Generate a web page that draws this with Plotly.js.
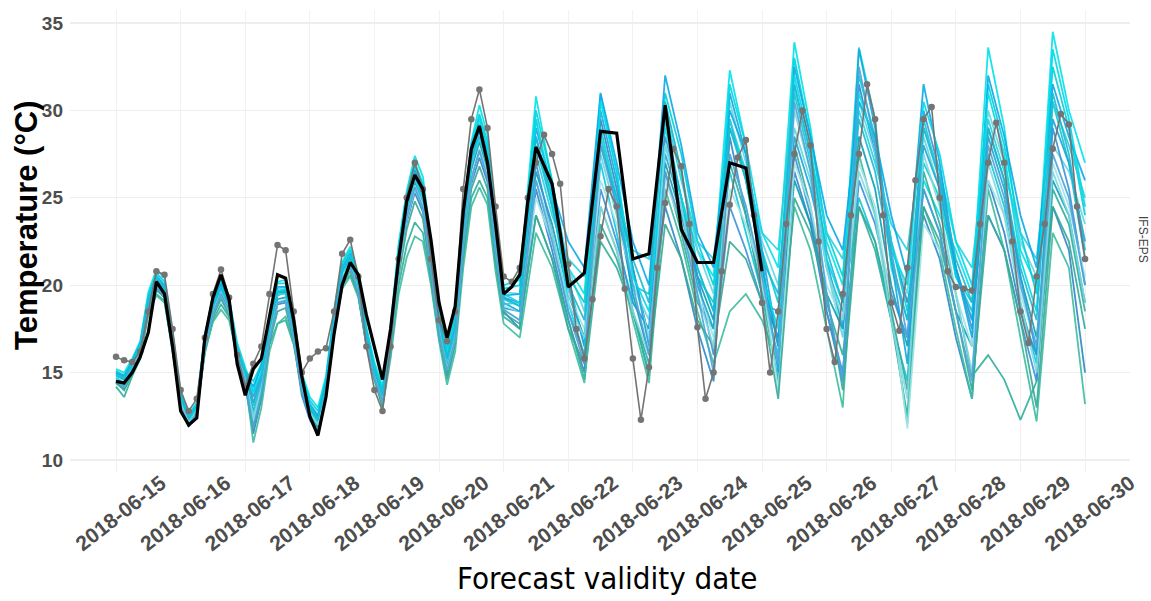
<!DOCTYPE html>
<html><head><meta charset="utf-8">
<script src="https://cdn.plot.ly/plotly-3.0.1.min.js"></script>
<style>html,body{margin:0;padding:0;background:#fff}#chart{width:1151px;height:601px}</style>
</head><body><div id="chart"></div>
<script>
// ---- tick labels ----
const dayTicks = ['2018-06-15','2018-06-16','2018-06-17','2018-06-18','2018-06-19','2018-06-20','2018-06-21','2018-06-22',
  '2018-06-23','2018-06-24','2018-06-25','2018-06-26','2018-06-27','2018-06-28','2018-06-29','2018-06-30'];
const tempTicks = [10,15,20,25,30,35];

// ---- observations (black): 3-hourly 0..168 h, then 6-hourly 174..240 h after 2018-06-15 00 UTC ----
const obs3h = [
  14.5,14.4,15.0,15.9,17.3,20.2,19.5,16.5,
  12.8,12.0,12.4,17.0,19.3,20.6,19.2,15.5,
  13.7,15.2,15.8,18.3,20.6,20.4,18.0,14.8,
  12.5,11.4,13.6,17.2,20.0,21.3,20.6,18.3,
  16.5,14.6,17.5,21.5,24.8,26.3,25.5,22.6,
  19.0,17.0,18.8,24.2,27.8,29.1,27.0,23.5,
  19.5,19.9,20.6,24.8,27.9,26.8,25.8,23.0,
  19.9];
const obs6h = [20.7,28.8,28.7,21.5,21.8,30.3,23.2,21.3,21.3,27.0,26.7,20.8];

// ---- grey dotted series: 3-hourly 0..360 h ----
const greyVals = [
  15.9,15.7,15.6,16.2,18.5,20.8,20.6,17.5,
  14.0,12.8,13.5,17.0,19.5,20.9,19.3,16.0,
  14.2,15.5,16.5,19.5,22.3,22.0,18.5,15.0,
  15.8,16.2,16.4,18.5,21.8,22.6,20.5,16.5,
  14.0,12.8,16.5,21.5,25.0,27.0,25.5,21.5,
  18.0,16.8,18.5,25.5,29.5,31.2,29.0,24.5,
  20.5,20.2,21.0,25.0,27.0,28.6,27.5,25.8,
  21.2,17.5,15.8,19.2,22.8,25.5,24.5,19.8,
  15.8,12.3,15.3,21.0,24.7,27.8,26.8,23.5,
  17.6,13.5,15.0,20.8,24.6,27.3,28.3,24.0,
  19.0,15.0,18.5,23.5,27.5,30.0,28.0,22.5,
  17.5,15.6,19.5,24.0,27.5,31.5,29.5,24.0,
  19.0,17.4,21.0,26.0,29.5,30.2,25.0,20.8,
  19.9,19.8,19.7,23.5,27.0,29.3,27.0,22.5,
  18.5,16.7,20.5,23.5,27.8,29.8,29.2,24.5,
  21.5];

// ---- ensemble members: early = 3-hourly 0..144 h (49), late = 6-hourly 150..360 h (36) ----
const m01Early = [15.2,15.0,15.8,16.8,19.6,20.9,20.4,17.3, 13.9,12.6,13.3,17.2,19.3,20.4,19.3,16.7, 15.3,14.0,15.5,18.2,20.2,20.3,18.0,15.0, 13.6,13.0,14.8,18.6,21.3,22.2,20.6,17.6, 15.6,14.2,17.6,22.4,25.4,27.4,26.2,22.6, 18.6,16.6,18.4,24.2,28.2,30.3,28.6,23.6, 20.0];
const m01Late = [20.3,30.8,26.0, 21.0,19.5,30.9,26.5, 19.0,17.5,29.0,25.0, 22.0,20.5,32.3,28.0, 23.0,21.0,33.9,29.0, 22.5,20.0,33.6,29.5, 21.0,18.0,26.0,24.0, 22.0,19.5,33.6,29.0, 22.0,20.0,34.5,30.0, 27.0];
const m02Early = [14.8,14.6,15.3,16.4,19.0,20.2,19.8,16.8, 13.4,12.2,12.9,16.7,18.7,19.9,18.9,16.3, 14.9,12.5,14.2,17.3,19.4,19.6,17.4,14.2, 12.8,12.0,14.0,17.8,20.7,21.6,20.1,17.1, 15.1,13.8,17.0,21.6,24.6,26.4,25.2,21.8, 18.0,15.9,17.6,23.2,27.2,28.8,27.2,22.7, 19.2];
const m02Late = [18.8,28.0,24.5, 20.5,16.5,27.0,23.0, 18.5,15.0,29.5,25.0, 20.5,19.0,26.5,23.0, 19.5,16.0,31.0,27.0, 21.0,18.5,25.0,22.5, 18.0,14.5,29.5,26.0, 20.5,18.5,27.5,24.5, 19.0,15.5,30.5,27.0, 21.5];
const m03Early = [14.4,14.1,15.0,16.0,18.6,19.8,19.3,16.3, 13.0,11.9,12.6,16.3,18.3,19.4,18.4,15.8, 14.3,11.5,13.5,16.8,18.9,19.0,16.8,13.7, 12.3,11.5,13.6,17.4,20.3,21.0,19.5,16.5, 14.6,13.2,16.3,20.8,23.6,25.3,24.2,20.8, 17.2,15.0,16.8,22.2,25.8,27.3,25.9,21.7, 18.5];
const m03Late = [17.5,25.5,22.0, 18.0,15.0,29.5,25.5, 21.0,17.0,24.5,21.5, 17.5,14.5,28.5,24.0, 19.5,17.0,26.5,23.5, 18.5,14.5,31.5,27.5, 22.5,19.0,24.0,21.5, 17.0,13.5,26.0,23.0, 18.5,16.0,24.5,22.0, 15.0];
const m04Early = [14.2,13.6,14.8,15.8,18.3,19.5,19.1,16.2, 13.2,12.0,12.8,16.1,18.0,18.9,18.2,15.9, 14.5,12.0,14.0,16.6,17.8,18.0,16.6,14.0, 12.6,11.8,13.9,17.2,20.0,20.6,19.4,16.7, 14.8,13.4,16.0,20.0,22.3,23.6,23.0,20.2, 17.0,14.6,16.6,21.5,25.0,26.0,25.0,21.0, 18.2];
const m04Late = [17.5,24.0,21.5, 18.0,14.6,22.5,21.0, 18.5,14.8,26.5,23.0, 19.0,17.5,27.0,24.0, 19.5,14.5,28.0,24.5, 19.0,16.0,24.5,22.0, 18.0,12.5,26.5,23.5, 19.5,14.8,16.0,14.6, 12.3,14.5,25.5,23.5, 18.5];
const m05Early = [15.0,14.9,15.6,16.6,19.3,20.6,20.0,17.0, 13.7,12.5,13.1,17.0,19.0,20.2,19.0,16.4, 15.1,13.8,15.0,17.8,19.8,19.9,17.6,14.6, 13.2,12.6,14.5,18.3,21.0,21.8,20.3,17.3, 15.3,13.9,17.2,22.0,25.0,26.8,25.6,22.0, 18.3,16.2,18.0,23.6,27.8,29.4,27.8,23.0, 19.6];
const m05Late = [19.5,29.5,25.5, 21.0,18.5,27.5,24.0, 20.0,18.0,30.5,26.5, 22.0,19.5,30.5,27.0, 22.5,20.0,29.0,26.0, 21.0,17.0,30.5,27.5, 22.5,19.5,28.5,25.5, 21.0,18.0,30.0,27.0, 22.5,20.5,28.0,26.5, 23.5];
const m06Early = [14.6,14.3,15.2,16.3,18.8,20.0,19.6,16.6, 13.3,12.1,12.8,16.5,18.5,19.6,18.6,16.0, 14.6,12.8,14.3,17.0,19.2,19.3,17.1,14.0, 12.6,11.9,13.9,17.6,20.5,21.3,19.8,16.8, 14.8,13.4,16.6,21.2,24.2,25.9,24.7,21.2, 17.5,15.4,17.2,22.8,26.6,28.2,26.6,22.2, 18.7];
const m06Late = [18.5,26.5,23.5, 19.5,17.0,28.5,24.5, 19.5,16.0,27.0,24.0, 20.5,18.0,29.5,26.0, 21.0,16.5,26.0,23.5, 19.5,17.5,28.5,25.5, 20.0,16.5,25.5,23.0, 18.5,16.5,29.0,26.0, 20.5,17.0,26.0,24.0, 19.0];
const m07Early = [14.9,14.7,15.5,16.5,19.1,20.4,19.9,16.9, 13.6,12.4,13.0,16.9,18.9,20.0,18.9,16.2, 14.9,13.3,14.7,17.6,19.6,19.7,17.5,14.4, 13.1,12.4,14.3,18.1,20.9,21.6,20.1,17.1, 15.1,13.7,17.0,21.7,24.8,26.5,25.3,21.7, 18.0,15.9,17.7,23.3,27.4,29.0,27.4,22.8, 19.3];
const m07Late = [19.0,27.0,23.0, 18.5,16.0,25.5,22.5, 19.0,17.5,28.5,25.0, 20.5,16.0,24.5,22.0, 19.0,18.5,27.5,24.0, 18.5,15.0,26.0,23.5, 19.5,17.0,30.0,26.5, 21.0,17.5,24.0,22.0, 18.0,14.5,29.0,25.5, 20.0];
const m08Early = [14.5,14.0,15.1,16.1,18.4,19.4,19.0,16.4, 13.4,12.3,12.9,16.2,17.9,18.6,18.0,15.9, 14.6,11.0,13.0,16.2,17.8,18.2,16.8,14.3, 13.0,12.0,14.0,17.3,19.8,20.5,19.3,16.6, 14.8,13.0,15.8,19.5,21.6,22.8,22.5,20.0, 16.8,14.3,16.2,21.0,24.5,25.6,24.6,20.8, 17.8];
const m08Late = [17.0,23.0,21.0, 17.5,14.4,24.5,22.0, 18.0,14.4,25.5,22.5, 18.5,15.5,18.5,19.5, 18.0,15.5,24.5,22.0, 17.5,13.0,27.5,24.0, 18.5,12.1,24.5,22.0, 17.5,13.5,25.5,22.0, 17.0,12.2,23.0,21.0, 13.2];
const m09Early = [15.1,14.8,15.7,16.7,19.4,20.7,20.2,17.1, 13.8,12.6,13.2,17.1,19.1,20.3,19.2,16.5, 15.1,14.5,15.5,18.0,20.1,20.1,17.8,14.8, 13.4,12.8,14.6,18.4,21.2,22.0,20.5,17.5, 15.4,14.0,17.4,22.2,25.2,27.0,25.8,22.2, 18.4,16.4,18.2,23.8,28.0,29.8,28.2,23.3, 19.8];
const m09Late = [20.0,30.0,26.0, 20.5,19.0,29.0,25.0, 20.0,19.5,31.0,27.5, 22.5,20.0,29.0,26.5, 22.0,19.0,33.0,28.5, 23.0,20.5,32.0,28.5, 22.5,18.5,27.0,25.0, 20.5,19.0,31.5,28.0, 23.0,19.5,32.5,29.0, 24.0];
const m10Early = [14.7,14.5,15.3,16.3,18.9,20.1,19.7,16.7, 13.5,12.3,12.9,16.6,18.6,19.7,18.7,16.1, 14.7,12.2,14.0,17.1,19.0,19.2,17.2,14.2, 12.9,12.1,14.1,17.7,20.5,21.3,19.9,16.9, 15.0,13.5,16.5,21.0,23.8,25.5,24.5,21.2, 17.6,15.2,17.0,22.5,26.2,27.6,26.3,22.0, 18.8];
const m10Late = [18.5,25.0,22.5, 19.5,17.5,26.0,23.5, 20.5,17.0,26.0,23.5, 20.0,17.0,25.5,23.5, 20.5,14.0,27.0,24.5, 20.0,18.0,27.0,24.5, 19.0,11.8,23.5,22.0, 19.5,16.5,26.0,24.0, 19.5,16.5,27.0,24.5, 20.5];
const m11Early = [14.9,14.6,15.4,16.4,19.0,20.3,19.8,16.8, 13.5,12.3,13.0,16.8,18.8,19.8,18.8,16.2, 14.8,13.6,14.9,17.6,19.6,19.6,17.4,14.3, 12.9,12.2,14.1,18.0,20.8,21.5,20.0,17.0, 15.0,13.6,16.9,21.5,24.5,26.2,25.0,21.5, 17.9,15.7,17.5,23.0,27.0,28.5,27.0,22.5, 19.0];
const m11Late = [18.5,28.5,25.0, 20.0,16.5,30.0,26.0, 21.0,16.5,27.5,24.5, 20.0,17.5,31.0,27.5, 22.0,16.5,28.5,25.5, 21.5,17.5,33.5,29.0, 21.5,15.5,28.0,25.5, 21.0,18.0,28.5,25.5, 20.5,16.0,29.5,27.0, 22.5];
const m12Early = [14.7,14.4,15.3,16.4,19.0,20.2,19.7,16.7, 13.4,12.2,12.9,16.7,18.7,19.8,18.8,16.2, 14.8,12.6,14.4,17.4,19.5,19.5,17.3,14.2, 12.8,12.1,14.1,17.9,20.7,21.4,19.9,16.9, 14.9,13.5,16.8,21.4,24.4,26.1,24.9,21.4, 17.8,15.6,17.4,22.9,26.9,28.4,26.9,22.4, 18.9];
const m12Late = [19.0,27.5,24.0, 21.5,20.5,28.5,25.0, 22.0,21.5,30.0,26.0, 22.5,21.5,29.5,26.5, 23.0,22.0,31.5,27.5, 23.0,21.5,30.0,27.0, 23.5,22.0,29.0,26.5, 22.5,21.0,29.5,26.5, 23.0,21.5,30.5,28.0, 25.0];
const m13Early = [14.4,14.0,14.9,15.9,18.5,19.7,19.3,16.4, 13.2,12.0,12.7,16.3,18.2,19.2,18.3,15.8, 14.4,11.8,13.6,16.7,18.5,18.7,16.8,14.0, 12.6,11.7,13.7,17.4,20.1,20.8,19.5,16.6, 14.6,13.0,16.2,20.5,23.2,24.8,23.8,20.6, 17.2,14.8,16.7,21.8,25.5,26.8,25.5,21.5, 18.4];
const m13Late = [17.8,24.0,21.5, 17.5,15.5,23.5,21.5, 18.5,15.5,23.5,21.5, 18.0,16.5,22.5,21.5, 19.0,13.5,25.0,23.0, 19.5,14.0,24.5,22.5, 18.5,14.0,24.5,22.5, 18.5,14.0,24.0,22.0, 18.0,13.0,24.5,22.5, 17.5];
const m14Early = [15.0,14.8,15.6,16.6,19.2,20.5,20.0,17.0, 13.6,12.4,13.1,16.9,18.9,20.1,19.0,16.3, 15.0,14.2,15.3,17.8,19.9,19.9,17.6,14.6, 13.2,12.5,14.4,18.2,21.0,21.8,20.2,17.2, 15.2,13.8,17.1,21.8,24.9,26.6,25.4,21.8, 18.1,16.0,17.8,23.4,27.5,29.2,27.6,23.0, 19.4];
const m14Late = [19.5,29.0,25.5, 22.5,21.0,31.0,27.0, 22.5,20.0,32.0,28.0, 23.0,21.0,30.0,27.5, 21.5,15.0,32.5,28.5, 24.0,22.0,30.5,28.5, 24.0,20.5,31.5,27.0, 21.0,17.0,32.0,28.5, 24.0,21.0,31.5,28.5, 26.0];
const m15Early = [14.9,14.7,15.5,16.6,19.2,20.4,19.9,16.9, 13.6,12.4,13.0,16.9,18.9,19.9,18.9,16.3, 14.9,13.9,15.0,17.7,19.7,19.8,17.6,14.5, 13.1,12.3,14.2,18.1,20.9,21.7,20.2,17.2, 15.2,13.8,17.1,21.9,25.0,26.9,25.7,22.1, 18.3,16.1,17.9,23.5,27.7,29.6,27.9,23.2, 19.5];
const m15Late = [19.0,29.5,25.0, 19.0,16.0,30.5,26.5, 20.5,18.5,28.0,25.0, 21.0,18.5,31.5,28.0, 20.5,17.5,32.0,28.0, 21.5,19.0,31.0,28.0, 22.0,20.0,30.5,27.5, 22.5,20.0,31.0,27.5, 21.5,18.5,33.5,29.5, 24.5];
const m16Early = [14.6,14.2,15.1,16.2,18.7,19.9,19.5,16.6, 13.3,12.1,12.8,16.4,18.4,19.5,18.5,16.0, 14.6,12.4,14.1,17.0,19.0,19.1,17.0,14.1, 12.7,12.0,14.0,17.6,20.4,21.1,19.7,16.8, 14.8,13.3,16.4,20.9,23.9,25.7,24.6,21.1, 17.4,15.1,16.9,22.4,26.0,27.8,26.4,22.0, 18.6];
const m16Late = [18.0,26.0,23.0, 19.0,17.0,24.5,22.0, 18.5,16.0,28.0,24.5, 19.5,16.5,27.5,24.5, 20.0,15.5,30.0,26.5, 21.0,18.0,26.5,24.0, 18.0,13.5,27.5,24.5, 19.5,15.0,27.0,24.0, 19.0,15.0,26.5,24.0, 19.0];
const m17Early = [15.0,14.7,15.5,16.5,19.1,20.3,19.9,16.9, 13.6,12.4,13.1,16.8,18.8,19.9,18.9,16.3, 15.0,13.1,14.6,17.5,19.6,19.7,17.5,14.4, 13.0,12.3,14.2,18.0,20.8,21.6,20.1,17.1, 15.1,13.7,17.0,21.7,24.7,26.4,25.2,21.7, 18.0,15.8,17.6,23.2,27.3,28.9,27.3,22.8, 19.3];
const m17Late = [18.8,28.5,24.5, 20.0,18.0,28.0,25.0, 21.5,19.0,30.5,26.5, 21.0,18.5,29.0,26.0, 21.5,19.5,31.5,27.5, 22.0,19.0,29.5,26.5, 21.5,18.0,29.0,26.0, 21.5,19.0,29.0,26.0, 21.0,18.0,31.0,27.5, 22.0];
const m18Early = [14.5,14.2,15.1,16.1,18.7,19.9,19.4,16.5, 13.1,12.0,12.7,16.4,18.4,19.5,18.6,16.0, 14.5,11.9,13.8,16.9,19.0,19.1,17.0,13.9, 12.4,11.6,13.7,17.5,20.4,21.1,19.6,16.6, 14.7,13.3,16.4,21.0,23.9,25.6,24.4,21.0, 17.3,15.1,16.9,22.3,26.1,27.7,26.1,21.9, 18.6];
const m18Late = [18.0,26.0,22.5, 18.5,15.5,28.0,24.5, 20.0,16.0,26.5,23.5, 19.5,15.0,27.5,24.5, 20.5,15.5,30.5,26.5, 19.5,14.5,32.5,28.0, 22.0,17.0,25.5,23.0, 18.5,14.5,28.0,25.0, 20.0,16.5,27.5,25.0, 20.0];

const members = [
  [m01Early,m01Late],[m02Early,m02Late],[m03Early,m03Late],[m04Early,m04Late],[m05Early,m05Late],
  [m06Early,m06Late],[m07Early,m07Late],[m08Early,m08Late],[m09Early,m09Late],[m10Early,m10Late],
  [m11Early,m11Late],[m12Early,m12Late],[m13Early,m13Late],[m14Early,m14Late],[m15Early,m15Late],
  [m16Early,m16Late],[m17Early,m17Late],[m18Early,m18Late]];
const memberColors = ['#00e1ea','#12c4d6','#2d86c6','#2fae9c','#62d6e2','#0a9fb3','#3a92d8',
  '#3cbba0','#00cfd8','#9fe3e8','#1aa5d8','#27d0e0','#36a898','#0aa8e6','#00d8e8','#7fd8e0',
  '#1db8d0','#4aa3d8'];

// ---- time helpers ----
const T0 = Date.UTC(2018,5,15);
const H = 3600000;
const toT = h => T0 + h*H;
const seq = (start, step, n) => Array.from({length:n}, (_,i)=> start + i*step);

const traces = [];
members.forEach((m, k) => {
  const hrs = seq(0,3,m[0].length).concat(seq(150,6,m[1].length));
  traces.push({
    x: hrs.map(toT), y: m[0].concat(m[1]), type:'scatter', mode:'lines',
    line:{color:memberColors[k], width:1.8}, opacity:0.9, hoverinfo:'skip', showlegend:false
  });
});
traces.push({
  x: seq(0,3,greyVals.length).map(toT), y: greyVals, type:'scatter', mode:'lines+markers',
  line:{color:'#747474', width:1.6}, marker:{color:'#747474', size:6.5}, hoverinfo:'skip', showlegend:false
});
traces.push({
  x: seq(0,3,obs3h.length).concat(seq(174,6,obs6h.length)).map(toT), y: obs3h.concat(obs6h),
  type:'scatter', mode:'lines', line:{color:'#000000', width:3.2}, hoverinfo:'skip', showlegend:false
});

const L = 70, R = 1130, TOP = 10, BOT = 472;
const pxPerDeg = (460-23)/25;   // 35 at y=23 px, 10 at y=460 px
const layout = {
  width:1151, height:601,
  margin:{l:L, r:1151-R, t:TOP, b:601-BOT, pad:0},
  paper_bgcolor:'#ffffff', plot_bgcolor:'#ffffff',
  showlegend:false,
  xaxis:{
    type:'date', range:[toT(-17.1), toT(376.7)],
    tickmode:'array', tickvals: dayTicks.map(d=>d+' 00:00'), ticktext: dayTicks,
    tickangle:-38, ticklabelshift:45, ticklabelstandoff:-6,
    tickfont:{family:'Liberation Sans, Arial, sans-serif', size:21, color:'#4d4d4d', weight:700},
    showgrid:true, gridcolor:'#f1f1f1', gridwidth:1, zeroline:false, showline:false, ticks:''
  },
  yaxis:{
    range:[10 - (BOT-460)/pxPerDeg, 35 + (23-TOP)/pxPerDeg],
    tickvals: tempTicks, ticktext: tempTicks.map(String),
    tickfont:{family:'Liberation Sans, Arial, sans-serif', size:19, color:'#4d4d4d', weight:700},
    showgrid:true, gridcolor:'#eeeeee', gridwidth:1.2, zeroline:false, showline:false, ticks:'',
    ticklabelstandoff:6
  },
  annotations:[
    {text:'Temperature (°C)', xref:'paper', yref:'paper', x:(27-L)/(R-L), y:(BOT-225)/(BOT-TOP),
     textangle:-90, showarrow:false, xanchor:'center', yanchor:'middle',
     font:{family:'Liberation Sans, Arial, sans-serif', size:31, color:'#000000', weight:700}},
    {text:'Forecast validity date', xref:'paper', yref:'paper', x:(607-L)/(R-L), y:(BOT-578)/(BOT-TOP),
     showarrow:false, xanchor:'center', yanchor:'middle',
     font:{family:'DejaVu Sans Condensed, DejaVu Sans, sans-serif', size:31, color:'#000000'}},
    {text:'IFS-EPS', xref:'paper', yref:'paper', x:(1143-L)/(R-L), y:(BOT-239)/(BOT-TOP),
     textangle:90, showarrow:false, xanchor:'center', yanchor:'middle',
     font:{family:'Liberation Sans, Arial, sans-serif', size:12, color:'#444444'}}
  ]
};

Plotly.newPlot('chart', traces, layout, {staticPlot:true, displayModeBar:false});
</script>
</body></html>
